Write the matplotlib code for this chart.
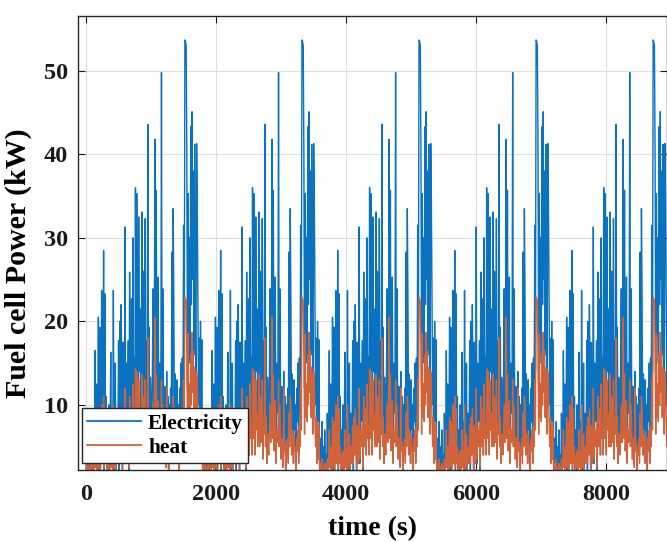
"""Fuel cell electricity / heat output over a repeated drive cycle."""

import matplotlib

matplotlib.use("Agg")
import matplotlib.pyplot as plt  # noqa: E402
import numpy as np

sample_step_s = 10
n_cycles = 5

electricity_cycle_kw = [
    2, 6, 1, 8, 2, 5, 1, 7, 3, 4,
    1, 9, 2, 5, 16.5, 3, 12.5, 2, 7, 20.5,
    2, 19.3, 1, 8, 23.7, 3, 9, 28.5, 2, 23.3,
    4, 11, 1, 7, 2, 10, 0.5, 6, 16.3, 3,
    8, 1, 23.7, 5, 2, 15, 1, 9, 3, 6,
    17.7, 2, 20, 5, 22, 13, 1, 17.5, 7, 3,
    31.3, 3, 15, 8, 12, 17.7, 2, 25.9, 9, 14,
    22.7, 4, 30, 11, 15.7, 6, 36, 10, 35.3, 12,
    5, 32.5, 14, 21.5, 8, 16, 33.1, 7, 26, 13,
    9, 32.3, 5, 17.7, 12, 43.6, 8, 19.3, 3, 13.3,
    10, 6, 14, 23.9, 9, 18, 41.8, 11, 35.7, 7,
    12, 25.3, 4, 15, 9, 11, 49.8, 8, 23.9, 13,
    5, 12.2, 9, 3, 14, 7, 11, 2, 10, 6,
    12, 4, 28.3, 9, 33.5, 22.7, 6, 13.7, 11, 3,
    13, 7, 10, 2, 12, 8, 15, 4, 15.6, 9,
    31.5, 14, 53.7, 53.5, 53, 39.6, 12, 35.3, 18, 30,
    15, 43.3, 22, 45.1, 25, 38, 16, 41.2, 20, 12,
    41.3, 34.9, 21.7, 10, 18, 6, 20, 8, 17.8, 5,
]

heat_cycle_kw = [
    1.5, 3, 1, 3.5, 2, 2.5, 1, 3, 2, 2.5,
    1, 3.5, 2, 3, 7, 2.5, 5, 1.5, 3.5, 8.5,
    2.5, 8, 1.5, 4, 10, 3, 5, 11, 2.5, 9.5,
    3, 5, 1.5, 4, 2.5, 4.5, 1, 3.5, 7, 2.5,
    4.5, 2, 10, 3.5, 2.5, 6.5, 1.5, 5, 3, 4,
    7.5, 3, 8.5, 4, 9.5, 6, 2, 7.5, 4.5, 3,
    12, 3.5, 7, 5, 6, 8, 2.5, 11, 5, 6.5,
    9.5, 4, 12.5, 6, 7.5, 4, 14.3, 6, 14, 6.5,
    4, 13, 7, 9, 5, 8, 13.7, 5, 11, 6.5,
    5.5, 13, 3.5, 8, 6.5, 18, 5, 8.5, 3, 6.5,
    5.5, 4, 7, 10, 5.5, 8, 20.5, 6, 13.7, 4.5,
    6.5, 10.5, 3, 7, 5.5, 6, 13, 5, 10, 6.5,
    3.5, 6, 5, 2.5, 12, 4.5, 5.5, 2, 5, 4,
    6, 3, 9, 5, 11, 9.5, 4, 7, 5.5, 3,
    6.5, 4.5, 5, 2, 6, 4.5, 7, 3, 7.5, 5,
    13, 7, 22.9, 22.7, 22.5, 16, 6.5, 18.5, 8.5, 12.5,
    8, 16, 10, 18.7, 11.5, 16.5, 8.5, 14.5, 9.5, 6.5,
    14, 13, 8, 5, 8.5, 3, 8, 3.5, 7.5, 2.5,
]

x_ticks = [0, 2000, 4000, 6000, 8000]
y_ticks = [10, 20, 30, 40, 50]

# the cycle is simply driven five times in a row
electricity = np.tile(electricity_cycle_kw, n_cycles)
heat = np.tile(heat_cycle_kw, n_cycles)
time_s = np.arange(len(electricity)) * sample_step_s

plt.rcParams["font.family"] = ["Liberation Serif", "DejaVu Serif"]
plt.rcParams["font.weight"] = "bold"

fig = plt.figure(figsize=(6.67, 5.42), dpi=100)
ax = fig.add_axes([0.1165, 0.1328, 0.8835, 0.8382])

ax.plot(time_s, electricity, color="#0A72BE", lw=1.0, label="Electricity")
ax.plot(time_s, heat, color="#D0633A", lw=1.0, label="heat")

ax.set_xlim(-128, 8933)
ax.set_ylim(2.2, 56.6)
ax.set_xticks(x_ticks)
ax.set_yticks(y_ticks)

ax.grid(True, color="#dedede", lw=0.8)
ax.set_axisbelow(True)
ax.tick_params(direction="in", length=5, width=0.8, top=True, right=True,
               labelsize=17.5, colors="#1a1a1a")
ax.tick_params(axis="x", pad=10)
ax.tick_params(axis="y", pad=7)
for spine in ax.spines.values():
    spine.set_color("#262626")
    spine.set_linewidth(1.0)

ax.set_xlabel("time (s)", fontsize=20, fontweight="bold", labelpad=8)
ax.set_ylabel("Fuel cell Power (kW)", fontsize=21.5, fontweight="bold")
ax.yaxis.set_label_coords(-0.077, 0.455)

leg = ax.legend(loc="lower left", bbox_to_anchor=(0.007, 0.015), borderaxespad=0,
                fontsize=15.4, handlelength=2.5, handletextpad=0.35,
                labelspacing=0.2, borderpad=0.25, fancybox=False, framealpha=1)
leg.get_frame().set_edgecolor("#262626")
leg.get_frame().set_linewidth(1.0)
for line in leg.get_lines():
    line.set_linewidth(1.3)

fig.savefig("out.png", dpi=100)
plt.close(fig)
